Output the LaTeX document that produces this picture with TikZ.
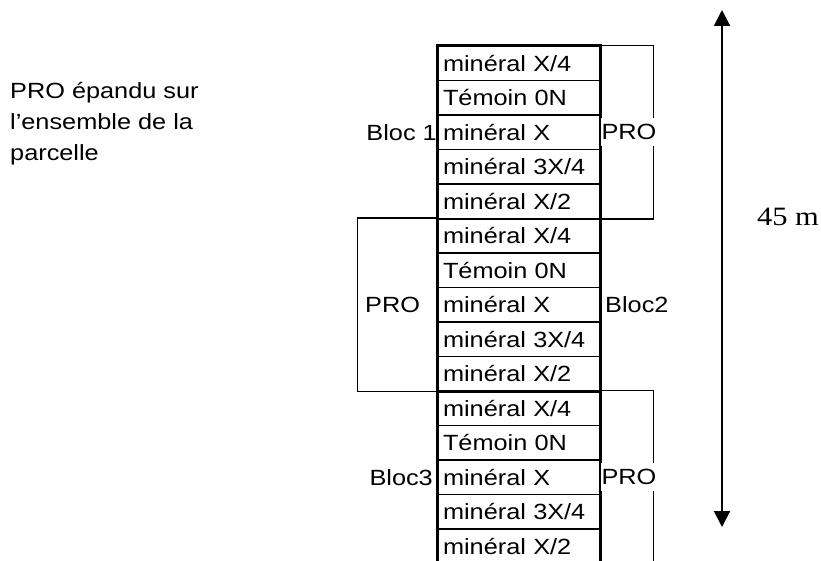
\documentclass[tikz,border=0pt]{standalone}
\usepackage{fontspec}
\usetikzlibrary{arrows.meta}
\newfontfamily\cellfont[FakeStretch=1.15]{Liberation Sans}
\newfontfamily\dimfont[FakeStretch=1.15]{Liberation Serif}

\begin{document}
\begin{tikzpicture}[
  x=1pt, y=-1pt,
  font=\cellfont\fontsize{22pt}{31pt}\selectfont,
  cell/.style={draw, line width=1.3pt, align=left, text width=152pt,
    inner xsep=5pt, inner ysep=0pt, minimum height=34.5pt},
  colline/.style={line width=2.2pt},
  bracket/.style={line width=1.4pt},
  lbl/.style={inner sep=0pt},
  prolbl/.style={fill=white, inner xsep=1pt, inner ysep=6pt},
  dim/.style={{Triangle[width=16pt,length=16pt]}-{Triangle[width=16pt,length=16pt]},
    line width=2pt},
]
\useasboundingbox (0,0) rectangle (821,561);
\clip (0,0) rectangle (821,561);

% block 1
\node[cell] (b1x4)  at (519,63.25)  {minéral X/4};
\node[cell] (b1tem) at (519,97.75)  {Témoin 0N};
\node[cell] (b1x)   at (519,132.25) {minéral X};
\node[cell] (b1x34) at (519,166.75) {minéral 3X/4};
\node[cell] (b1x2)  at (519,201.25) {minéral X/2};
% block 2
\node[cell] (b2x4)  at (519,235.75) {minéral X/4};
\node[cell] (b2tem) at (519,270.25) {Témoin 0N};
\node[cell] (b2x)   at (519,304.75) {minéral X};
\node[cell] (b2x34) at (519,339.25) {minéral 3X/4};
\node[cell] (b2x2)  at (519,373.75) {minéral X/2};
% block 3
\node[cell] (b3x4)  at (519,408.25) {minéral X/4};
\node[cell] (b3tem) at (519,442.75) {Témoin 0N};
\node[cell] (b3x)   at (519,477.25) {minéral X};
\node[cell] (b3x34) at (519,511.75) {minéral 3X/4};
\node[cell] (b3x2)  at (519,546.25) {minéral X/2};

% outline of the column
\draw[colline] (b3x2.south west) -- (b1x4.north west) -- (b1x4.north east)
  -- (b3x2.south east);
\draw[colline] (b1x2.south west) -- (b1x2.south east);
\draw[colline] (b2x2.south west) -- (b2x2.south east);

% PRO brackets
\draw[bracket] (b1x4.north east) -- ++(53,0) |- (b1x2.south east);
\draw[bracket] (b2x4.north west) -- ++(-80,0) |- (b2x2.south west);
\draw[bracket] (b3x4.north east) -- ++(53,0) |- (b3x2.south east);

\node[lbl, prolbl] (pro1) at (629,132.25) {PRO};
\node[lbl, anchor=west] (pro2) at (365,304.75) {PRO};
\node[lbl, prolbl] (pro3) at (629,477.25) {PRO};

\node[lbl, anchor=east] (bloc1) at (437,132.25) {Bloc 1};
\node[lbl, anchor=west] (bloc2) at (605,304.75) {Bloc2};
\node[lbl, anchor=east] (bloc3) at (433,477.25) {Bloc3};

\node[lbl, anchor=north west, align=left] (note) at (10,82)
  {PRO épandu sur\\ l’ensemble de la\\ parcelle};

% length of the plot
\coordinate (plottop) at (722,10);
\coordinate (plotbot) at (722,527);
\draw[dim] (plottop) -- (plotbot);
\node[lbl, font=\dimfont\fontsize{26.5pt}{30pt}\selectfont] (len) at (788,217) {45 m};
\end{tikzpicture}
\end{document}
